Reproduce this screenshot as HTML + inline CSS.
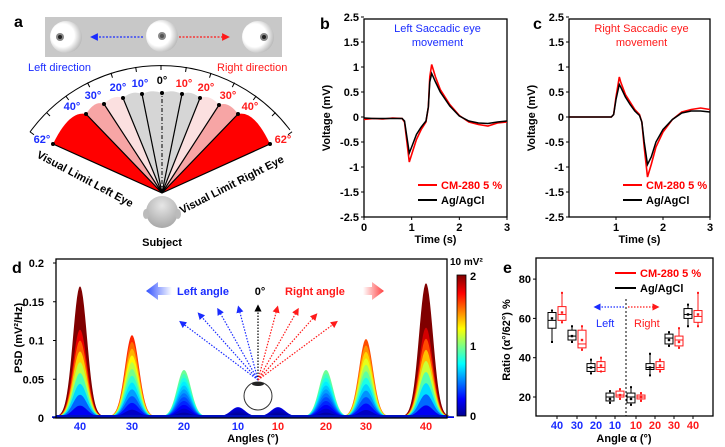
<!DOCTYPE html>
<html><head><meta charset="utf-8"><style>
html,body{margin:0;padding:0;background:#fff}
svg{display:block;font-family:"Liberation Sans",Arial,sans-serif}
.b{font-weight:bold}
</style></head><body>
<svg id="fig" width="725" height="447" viewBox="0 0 725 447" xmlns="http://www.w3.org/2000/svg">
<defs>
<radialGradient id="eyeg" cx="0.4" cy="0.45" r="0.6"><stop offset="0.6" stop-color="#fff"/><stop offset="1" stop-color="#bbb"/></radialGradient>
<radialGradient id="headg" cx="0.5" cy="0.3" r="0.7"><stop offset="0" stop-color="#e6e6e6"/><stop offset="1" stop-color="#a8a8a8"/></radialGradient>
<linearGradient id="jetbar" x1="0" y1="1" x2="0" y2="0">
<stop offset="0" stop-color="#00008f"/><stop offset="0.12" stop-color="#0000ff"/><stop offset="0.37" stop-color="#00ffff"/><stop offset="0.5" stop-color="#80ff80"/><stop offset="0.62" stop-color="#ffff00"/><stop offset="0.87" stop-color="#ff0000"/><stop offset="1" stop-color="#800000"/></linearGradient>
<linearGradient id="fadeL" x1="0" x2="1"><stop offset="0" stop-color="#3050ff"/><stop offset="1" stop-color="#3050ff" stop-opacity="0"/></linearGradient>
<linearGradient id="fadeR" x1="1" x2="0"><stop offset="0" stop-color="#ff4040"/><stop offset="1" stop-color="#ff4040" stop-opacity="0"/></linearGradient>
<marker id="mb" markerWidth="6" markerHeight="6" refX="3" refY="3" orient="auto"><path d="M0,0L6,3L0,6z" fill="#1a2cff"/></marker>
<marker id="mr" markerWidth="6" markerHeight="6" refX="3" refY="3" orient="auto"><path d="M0,0L6,3L0,6z" fill="#ff1a1a"/></marker>
<marker id="mk" markerWidth="6" markerHeight="6" refX="3" refY="3" orient="auto"><path d="M0,0L6,3L0,6z" fill="#000"/></marker>
</defs>

<g>
<text x="14" y="27" font-size="16" class="b">a</text>
<rect x="45" y="17" width="237" height="40" fill="#c8c8c8"/>
<g><circle cx="66" cy="37" r="16" fill="url(#eyeg)"/><circle cx="60" cy="37" r="4" fill="#888"/><circle cx="60" cy="37" r="2" fill="#222"/></g>
<g><circle cx="162" cy="36" r="16" fill="url(#eyeg)"/><circle cx="162" cy="36" r="4" fill="#888"/><circle cx="162" cy="36" r="2" fill="#555"/></g>
<g><circle cx="258" cy="37" r="16" fill="url(#eyeg)"/><circle cx="264" cy="37" r="4" fill="#888"/><circle cx="264" cy="37" r="2" fill="#222"/></g>
<line x1="143" y1="37" x2="94" y2="37" stroke="#1a2cff" stroke-width="1.3" stroke-dasharray="2,1.5" marker-end="url(#mb)"/>
<line x1="179" y1="37" x2="226" y2="37" stroke="#ff1a1a" stroke-width="1.3" stroke-dasharray="2,1.5" marker-end="url(#mr)"/>
<text x="28" y="71" font-size="11" fill="#1a2cff">Left direction</text>
<text x="217" y="71" font-size="11" fill="#ff1a1a">Right direction</text>
<path d="M30,132 A162,162 0 0 1 290,130" fill="none" stroke="#000" stroke-width="1"/>
<g id="fan"></g>
<g><circle cx="162" cy="212" r="16" fill="url(#headg)"/><ellipse cx="146" cy="214" rx="3" ry="5" fill="#bbb"/><ellipse cx="178" cy="214" rx="3" ry="5" fill="#bbb"/></g>
<text x="162" y="246" font-size="11" class="b" text-anchor="middle">Subject</text>
<text transform="translate(36,157) rotate(28)" font-size="11" class="b">Visual Limit Left Eye</text>
<text transform="translate(182,214) rotate(-27)" font-size="11" class="b">Visual Limit Right Eye</text>
</g>

<text x="320" y="29" font-size="16" class="b">b</text>
<text x="533" y="29" font-size="16" class="b">c</text>
<g id="pb"></g>
<g id="pc"></g>

<text x="12" y="273" font-size="16" class="b">d</text>
<g id="pd"></g>

<text x="503" y="273" font-size="16" class="b">e</text>
<g id="pe"></g>
</svg>
<script>
const fanAngles = ["62°","40°","30°","20°","10°","0°","10°","20°","30°","40°","62°"];
const bTime = [0,0.2,0.4,0.6,0.8,0.85,0.9,0.95,1.0,1.1,1.2,1.3,1.35,1.38,1.42,1.5,1.6,1.8,2.0,2.2,2.4,2.6,2.8,3.0];
const bRed = [-0.05,-0.03,-0.04,-0.02,-0.03,-0.1,-0.5,-0.9,-0.75,-0.45,-0.25,-0.1,0.2,0.8,1.05,0.8,0.55,0.25,0.03,-0.1,-0.15,-0.18,-0.12,-0.1];
const bBlack = [-0.02,-0.03,-0.03,-0.03,-0.03,-0.08,-0.4,-0.72,-0.6,-0.35,-0.2,-0.08,0.2,0.7,0.87,0.7,0.5,0.22,0.02,-0.08,-0.12,-0.13,-0.1,-0.08];
const cTime = [0,0.3,0.6,0.9,0.95,1.0,1.07,1.1,1.2,1.3,1.4,1.5,1.55,1.6,1.67,1.75,1.85,2.0,2.2,2.4,2.6,2.8,3.0];
const cRed = [0,0,0,0,0.05,0.4,0.8,0.7,0.45,0.3,0.15,0.05,-0.1,-0.6,-1.2,-0.95,-0.6,-0.3,-0.05,0.1,0.15,0.18,0.15];
const cBlack = [0,0,0,0,0.05,0.35,0.65,0.6,0.4,0.25,0.12,0.03,-0.1,-0.5,-0.95,-0.8,-0.5,-0.25,-0.05,0.08,0.12,0.12,0.1];
const vTicks = [2,1.5,1,0.5,0,-0.5,-1,-1.5,-2];
const vTickLabels = ["2.5","1.5","1","0.5","0","-0.5","-1","-1.5","-2.5"];
const psdCats = ["40","30","20","10","10","20","30","40"];
const psdPos = [-40,-30,-20,-10,10,20,30,40];
const psdPeaks = [0.168,0.105,0.06,0.012,0.012,0.06,0.1,0.172];
const psdTicks = [0,0.05,0.1,0.15,0.2];
const eCats = ["40","30","20","10","10","20","30","40"];
const eBlack = [[48,55,59,63,64,60],[48,49,51,54,56,51],[32,33,35,37,39,35],[17,18,20,22,23,19],[16,17,20,22,25,19],[31,34,35,37,42,35],[46,47,50,52,53,49],[56,60,62,65,67,62]];
const eRed = [[58,59,62,66,73,63],[44,45,47,54,56,49],[33,33,35,38,40,36],[19,20,21,23,24,21],[18,19,20,21,22,20],[33,34,35,38,39,36],[45,46,49,51,55,48],[56,58,61,64,73,62]];
const eTicks = [20,40,60,80];

const NS="http://www.w3.org/2000/svg";
function mk(parent,tag,attrs,text){const e=document.createElementNS(NS,tag);for(const k in attrs)e.setAttribute(k,attrs[k]);if(text!==undefined)e.textContent=text;parent.appendChild(e);return e;}

(function(){
 const g=document.getElementById('fan');
 const pts=[[53,144],[86,114],[104,104],[123,98],[142,94],[162,93],[182,94],[200,98],[219,105],[238,114],[270,144]];
 const fills=["#ff0000","#f7a5a5","#fbe0e0","#d6d6d6","#d6d6d6","#d6d6d6","#d6d6d6","#fbe0e0","#f7a5a5","#ff0000"];
 const ax=162,ay=193;
 for(let i=0;i<10;i++){
  const p=mk(g,'path',{d:`M${ax},${ay}L${pts[i][0]},${pts[i][1]}Q${(pts[i][0]+pts[i+1][0])/2},${Math.min(pts[i][1],pts[i+1][1])-4} ${pts[i+1][0]},${pts[i+1][1]}Z`,fill:fills[i]});
  
  
 }
 const lblPos=[[42,143],[72,110],[93,99],[118,91],[140,87],[162,84],[184,87],[206,91],[228,99],[250,110],[283,143]];
 for(let i=0;i<11;i++){
  if(i!==5){const l=mk(g,'line',{x1:ax,y1:ay,x2:pts[i][0],y2:pts[i][1],stroke:'#000','stroke-width':1.2});
  
  }
  else{const l=mk(g,'line',{x1:ax,y1:ay,x2:pts[i][0],y2:pts[i][1],stroke:'#000','stroke-width':1,'stroke-dasharray':'4,2,1,2'});
  
  }
  const d=mk(g,'circle',{cx:pts[i][0],cy:pts[i][1],r:2,fill:'#000'});
  
  
  const col=i<5?'#1a2cff':(i>5?'#ff1a1a':'#000');
  const t=mk(g,'text',{x:lblPos[i][0],y:lblPos[i][1],'font-size':11,'font-weight':'bold',fill:col,'text-anchor':'middle'},fanAngles[i]);
  
  
 }
 const cx=161,cy=227,r=162;
 for(let a=-54;a<=54;a+=9){
  const rad=a*Math.PI/180;const x1=cx+r*Math.sin(rad),y1=cy-r*Math.cos(rad);const x2=cx+(r-5)*Math.sin(rad),y2=cy-(r-5)*Math.cos(rad);
  const t=mk(g,'line',{x1,y1,x2,y2,stroke:'#000','stroke-width':1});
  
  
 }
})();

function voltPanel(gid,x0,x1,xTicks,time,red,black,title,titleColor){
 const g=document.getElementById(gid);
 const y0=117,k=50;
 const X=t=>x0+(x1-x0)*t/3, Y=v=>y0-k*v;
 const r=mk(g,'rect',{x:x0,y:19,width:x1-x0,height:198,fill:'none',stroke:'#000','stroke-width':1.3});
 
 
 vTicks.forEach((v,i)=>{
  const l=mk(g,'line',{x1:x0,x2:x0-3,y1:Y(v),y2:Y(v),stroke:'#000'});
  
  
  const t=mk(g,'text',{x:x0-5,y:Y(v)+4,'font-size':11,'font-weight':'bold','text-anchor':'end'},vTickLabels[i]);
  
  
 });
 xTicks.forEach(v=>{
  const l=mk(g,'line',{x1:X(v),x2:X(v),y1:217,y2:220,stroke:'#000'});
  
  
  const t=mk(g,'text',{x:X(v),y:231,'font-size':11,'font-weight':'bold','text-anchor':'middle'},String(v));
  
  
 });
 const xt=mk(g,'text',{x:(x0+x1)/2,y:243,'font-size':11,'font-weight':'bold','text-anchor':'middle'},'Time (s)');
 
 
 const yt=mk(g,'text',{transform:`translate(${x0-34},118) rotate(-90)`,'font-size':11,'font-weight':'bold','text-anchor':'middle'},'Voltage (mV)');
 
 
 const p1=mk(g,'polyline',{points:time.map((t,i)=>X(t)+','+Y(red[i])).join(' '),fill:'none',stroke:'#ff0000','stroke-width':1.6});
 
 
 const p2=mk(g,'polyline',{points:time.map((t,i)=>X(t)+','+Y(black[i])).join(' '),fill:'none',stroke:'#000','stroke-width':1.5});
 
 
 const cx=(x0+x1)/2+2;
 const t1=mk(g,'text',{x:cx,y:32,'font-size':11,fill:titleColor,'text-anchor':'middle'},title);
 
 
 const t2=mk(g,'text',{x:cx,y:46,'font-size':11,fill:titleColor,'text-anchor':'middle'},'movement');
 
 
 const lx=x0+54;
 const ll1=mk(g,'line',{x1:lx,x2:lx+19,y1:185,y2:185,stroke:'#ff0000','stroke-width':2});
 
 
 const lt1=mk(g,'text',{x:lx+23,y:189,'font-size':11,'font-weight':'bold',fill:'#ff0000'},'CM-280 5 %');
 
 
 const ll2=mk(g,'line',{x1:lx,x2:lx+19,y1:200,y2:200,stroke:'#000','stroke-width':2});
 
 
 const lt2=mk(g,'text',{x:lx+23,y:204,'font-size':11,'font-weight':'bold'},'Ag/AgCl');
 
 
}
voltPanel('pb',364,507,[0,1,2,3],bTime,bRed,bBlack,'Left Saccadic eye','#1a2cff');
voltPanel('pc',569,710,[1,2,3],cTime,cRed,cBlack,'Right Saccadic eye','#ff1a1a');

function jet(v){v=Math.max(0,Math.min(1,v));
 const r=Math.max(0,Math.min(1,1.5-Math.abs(4*v-3))),g=Math.max(0,Math.min(1,1.5-Math.abs(4*v-2))),b=Math.max(0,Math.min(1,1.5-Math.abs(4*v-1)));
 return `rgb(${Math.round(r*255)},${Math.round(g*255)},${Math.round(b*255)})`;}
(function(){
 const g=document.getElementById('pd');
 const x0=56,x1=447,yb=418,yt=263;
 const Y=v=>yb-(yb-yt)*v/0.2;
 const peakX=[80,132,184,238,278,326,366,426];
 const posToX=p=>{const i=psdPos.indexOf(p);return peakX[i];};
 const sig=7,N=12;
 psdPeaks.forEach((h,pi)=>{
  const cx=posToX(psdPos[pi]);
  for(let k=N;k>=1;k--){
   const hh=h*k/N;let d=`M${cx-28},${yb}`;
   for(let x=cx-28;x<=cx+28;x+=1){d+=`L${x},${Y(0.002+hh*Math.exp(-((x-cx)**2)/(2*sig*sig)))}`;}
   d+=`L${cx+28},${yb}Z`;
   const p=mk(g,'path',{d,fill:jet(hh/0.125)});
   
   
  }
 });
 const base=mk(g,'rect',{x:x0,y:yb-3,width:x1-x0,height:3,fill:'#0010c0'});
 
 
 const fr=mk(g,'rect',{x:x0,y:259,width:x1-x0,height:yb-259,fill:'none',stroke:'#000','stroke-width':1.3});
 
 
 psdTicks.forEach(v=>{
  const l=mk(g,'line',{x1:x0,x2:x0-3,y1:Y(v),y2:Y(v),stroke:'#000'});
  
  
  const t=mk(g,'text',{x:x0-12,y:Y(v)+4,'font-size':11,'font-weight':'bold','text-anchor':'end'},String(v));
  
  
 });
 psdCats.forEach((c,i)=>{
  const t=mk(g,'text',{x:peakX[i],y:430,'font-size':11,'font-weight':'bold','text-anchor':'middle',fill:i<4?'#1a2cff':'#ff1a1a'},c);
  
  
 });
 const xt=mk(g,'text',{x:253,y:442,'font-size':11,'font-weight':'bold','text-anchor':'middle'},'Angles (°)');
 
 
 const ytl=mk(g,'text',{transform:'translate(22,338) rotate(-90)','font-size':11,'font-weight':'bold','text-anchor':'middle'},'PSD (mV²/Hz)');
 
 
 const cb=mk(g,'rect',{x:457,y:275,width:9,height:141,fill:'url(#jetbar)',stroke:'#000','stroke-width':0.8});
 
 
 [["2",276],["1",346],["0",416]].forEach(a=>{
  const t=mk(g,'text',{x:470,y:a[1]+4,'font-size':11,'font-weight':'bold'},a[0]);
  
  
 });
 const cu=mk(g,'text',{x:450,y:265,'font-size':10,'font-weight':'bold'},'10 mV²');
 
 
 const fl=mk(g,'path',{d:'M146,291L158,282L158,287L172,287L172,295L158,295L158,300Z',fill:'url(#fadeL)'});
 
 
 const frr=mk(g,'path',{d:'M384,291L372,282L372,287L363,287L363,295L372,295L372,300Z',fill:'url(#fadeR)'});
 
 
 const la=mk(g,'text',{x:177,y:295,'font-size':11,'font-weight':'bold',fill:'#1a2cff'},'Left angle');
 
 
 const za=mk(g,'text',{x:260,y:295,'font-size':11,'font-weight':'bold','text-anchor':'middle'},'0°');
 
 
 const ra=mk(g,'text',{x:285,y:295,'font-size':11,'font-weight':'bold',fill:'#ff1a1a'},'Right angle');
 
 
 const ends=[[182,323,'b'],[200,315,'b'],[219,311,'b'],[239,309,'b'],[258,308,'k'],[277,309,'r'],[297,311,'r'],[315,316,'r'],[335,323,'r']];
 ends.forEach(e=>{
  const col=e[2]==='b'?'#1a2cff':e[2]==='r'?'#ff1a1a':'#000';
  const l=mk(g,'line',{x1:258,y1:380,x2:e[0],y2:e[1],stroke:col,'stroke-width':1.2,'stroke-dasharray':'1.5,1.5','marker-end':`url(#m${e[2]})`});
  
  
 });
 const eye=mk(g,'circle',{cx:258,cy:396,r:14,fill:'none',stroke:'#333','stroke-width':1});
 
 
 const lens=mk(g,'ellipse',{cx:258,cy:384,rx:6,ry:2,fill:'#222'});
 
 
})();

(function(){
 const g=document.getElementById('pe');
 const x0=536,x1=713,yt=258,yb=416;
 const Y=v=>397-(v-20)*1.965;
 const catX=[557,577,596,615,636,655,674,693];
 const fr=mk(g,'rect',{x:x0,y:yt,width:x1-x0,height:yb-yt,fill:'none',stroke:'#000','stroke-width':1.3});
 
 
 eTicks.forEach(v=>{
  const l=mk(g,'line',{x1:x0,x2:x0-3,y1:Y(v),y2:Y(v),stroke:'#000'});
  
  
  const t=mk(g,'text',{x:x0-5,y:Y(v)+4,'font-size':11,'font-weight':'bold','text-anchor':'end'},String(v));
  
  
 });
 eCats.forEach((c,i)=>{
  const l=mk(g,'line',{x1:catX[i],x2:catX[i],y1:yb,y2:yb+3,stroke:'#000'});
  
  
  const t=mk(g,'text',{x:catX[i],y:429,'font-size':11,'font-weight':'bold','text-anchor':'middle',fill:i<4?'#1a2cff':'#ff1a1a'},c);
  
  
 });
 function box(cx,d,col){
  const w=l=>{const e=mk(g,'line',l);e.setAttribute('stroke',col);e.setAttribute('stroke-width','1');return e;};
  const wl=w({x1:cx,x2:cx,y1:Y(d[0]),y2:Y(d[4])});
  
  
  const r=mk(g,'rect',{x:cx-4,y:Y(d[3]),width:8,height:Y(d[1])-Y(d[3]),fill:'#fff',stroke:col,'stroke-width':1});
  
  
  const m=w({x1:cx-4,x2:cx+4,y1:Y(d[2]),y2:Y(d[2])});
  
  
  [d[0],d[4]].forEach(v=>{const c=mk(g,'rect',{x:cx-1,y:Y(v)-1,width:2,height:2,fill:col});
   
   });
  const mn=mk(g,'rect',{x:cx-1.2,y:Y(d[5])-1.2,width:2.4,height:2.4,fill:col});
  
  
 }
 catX.forEach((x,i)=>{box(x-5,eBlack[i],'#000');box(x+5,eRed[i],'#ff1a1a');});
 const dl=mk(g,'line',{x1:626,x2:626,y1:299,y2:yb,stroke:'#000','stroke-dasharray':'2,2'});
 
 
 const al=mk(g,'line',{x1:624,x2:597,y1:307,y2:307,stroke:'#1a2cff','stroke-width':1.2,'stroke-dasharray':'1.5,1.5','marker-end':'url(#mb)'});
 
 
 const ar=mk(g,'line',{x1:628,x2:656,y1:307,y2:307,stroke:'#ff1a1a','stroke-width':1.2,'stroke-dasharray':'1.5,1.5','marker-end':'url(#mr)'});
 
 
 const lt=mk(g,'text',{x:596,y:327,'font-size':11,fill:'#1a2cff'},'Left');
 
 
 const rt=mk(g,'text',{x:634,y:327,'font-size':11,fill:'#ff1a1a'},'Right');
 
 
 const l1=mk(g,'line',{x1:615,x2:636,y1:273,y2:273,stroke:'#ff0000','stroke-width':2});
 
 
 const t1=mk(g,'text',{x:640,y:277,'font-size':11,'font-weight':'bold',fill:'#ff0000'},'CM-280 5 %');
 
 
 const l2=mk(g,'line',{x1:615,x2:636,y1:288,y2:288,stroke:'#000','stroke-width':2});
 
 
 const t2=mk(g,'text',{x:640,y:292,'font-size':11,'font-weight':'bold'},'Ag/AgCl');
 
 
 const xt=mk(g,'text',{x:624,y:442,'font-size':11,'font-weight':'bold','text-anchor':'middle'},'Angle α (°)');
 
 
 const ytl=mk(g,'text',{transform:'translate(510,340) rotate(-90)','font-size':11,'font-weight':'bold','text-anchor':'middle'},'Ratio (α°/62°) %');
 
 
})();
</script>
</body></html>
